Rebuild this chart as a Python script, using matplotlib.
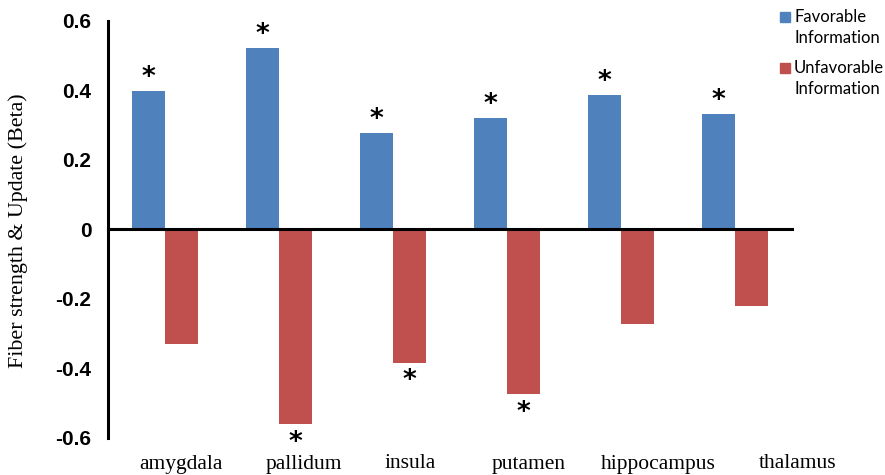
import numpy as np
import matplotlib
matplotlib.use("Agg")
import matplotlib.pyplot as plt
from matplotlib.patches import Rectangle
import matplotlib.transforms as mtransforms

# datos
regions = ["amygdala", "pallidum", "insula", "putamen", "hippocampus", "thalamus"]
favorable = [0.397, 0.523, 0.278, 0.321, 0.387, 0.331]
unfavorable = [-0.329, -0.561, -0.383, -0.473, -0.273, -0.219]
fav_sig = [True, True, True, True, True, True]
unf_sig = [False, True, True, True, False, False]
series_names = ["Favorable\nInformation", "Unfavorable\nInformation"]
yticks = [-0.6, -0.4, -0.2, 0, 0.2, 0.4, 0.6]
ytick_labels = ["-0.6", "-0.4", "-0.2", "0", "0.2", "0.4", "0.6"]
label_shift = [0.14, 0.22, 0.15, 0.19, 0.33, 0.55]   # las etiquetas no estan centradas

blue = "#4F81BD"
red = "#C0504D"

fig = plt.figure(figsize=(8.85, 4.75), dpi=100)
ax = fig.add_axes([0.122, 0.078, 0.773, 0.878])

x = np.arange(len(regions))
w = 0.29
ax.bar(x - w / 2, favorable, w, color=blue, edgecolor="none")
ax.bar(x + w / 2, unfavorable, w, color=red, edgecolor="none")

# asteriscos de significancia
for i in range(len(regions)):
    if fav_sig[i]:
        ax.annotate("*", (x[i] - w / 2, favorable[i]), xytext=(0, 0), textcoords="offset points",
                    ha="center", va="bottom", fontsize=19, fontweight="bold", fontfamily="DejaVu Sans")
    if unf_sig[i]:
        ax.annotate("*", (x[i] + w / 2, unfavorable[i]), xytext=(0, -23), textcoords="offset points",
                    ha="center", va="bottom", fontsize=19, fontweight="bold", fontfamily="DejaVu Sans")

ax.set_xlim(-0.5, 5.5)
ax.set_ylim(-0.6, 0.6)
ax.set_yticks(yticks)
ax.set_yticklabels(ytick_labels, fontsize=15, fontweight="bold", fontfamily="Liberation Sans")
ax.tick_params(axis="y", length=0, pad=12)
ax.set_xticks([])

ax.spines["top"].set_visible(False)
ax.spines["right"].set_visible(False)
ax.spines["bottom"].set_position(("data", 0))
ax.spines["bottom"].set_linewidth(2.2)
ax.spines["left"].set_linewidth(2.2)

# etiquetas de regiones debajo
trans = mtransforms.blended_transform_factory(ax.transData, fig.transFigure)
for i, r in enumerate(regions):
    ax.text(x[i] + label_shift[i], 1 - 464 / 475, r, transform=trans, ha="center", va="center",
            fontsize=15.5, fontfamily="Liberation Serif", clip_on=False)

fig.text(0.021, 1 - 231 / 475, "Fiber strength & Update (Beta)", rotation=90, ha="center", va="center",
         fontsize=15.8, fontfamily="Liberation Serif")

# leyenda hecha a mano
for k, (name, col) in enumerate(zip(series_names, [blue, red])):
    y0 = 1 - (17 + k * 51) / 475
    fig.patches.append(Rectangle((780 / 885, y0 - 5 / 475), 10 / 885, 10 / 475,
                                 transform=fig.transFigure, color=col))
    fig.text(794 / 885, y0 + 8 / 475, name, ha="left", va="top", fontsize=12,
             fontfamily="Lato", linespacing=1.4)

fig.savefig("out.png", dpi=100)
